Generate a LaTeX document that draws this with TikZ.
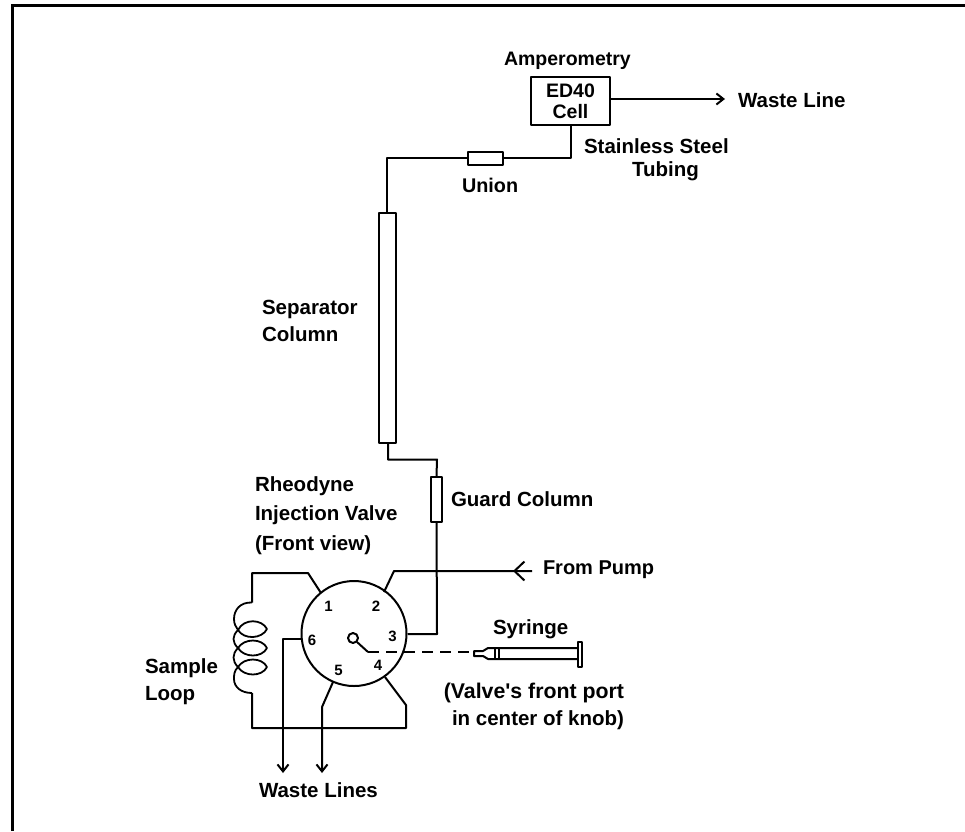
\documentclass[tikz,border=0pt]{standalone}
\usepackage{fontspec}
\setmainfont{Liberation Sans}
\usetikzlibrary{arrows.meta}
\tikzset{
  lbl/.style={inner sep=0pt, anchor=west, align=left, font=\fontsize{20.5}{27}\selectfont\bfseries},
  num/.style={inner sep=0pt, font=\fontsize{15}{15}\selectfont\bfseries},
  part/.style={draw, fill=white, inner sep=0pt}
}
\begin{document}
\begin{tikzpicture}[x=1pt, y=-1pt, >={Straight Barb[length=7pt, width=11pt]}, line width=2pt, line join=round]
\useasboundingbox (0,0) rectangle (965,831);
\draw[line width=3.2pt, line join=miter] (12.7,831) -- (12.7,5.5) -- (965,5.5);
% parts in the flow path
\node[part, minimum width=79pt, minimum height=48pt, align=center, font=\fontsize{19.5}{21}\selectfont\bfseries] (cell) at (570.5,101) {ED40\\Cell};
\node[part, minimum width=35pt, minimum height=13pt] (union) at (485.5,158) {};
\node[part, minimum width=17pt, minimum height=230pt] (sepcol) at (387,328) {};
\node[part, minimum width=11pt, minimum height=45pt] (guardcol) at (436.5,499.5) {};
\node[draw, circle, minimum size=105pt, inner sep=0pt] (valve) at (354,633.5) {};
\coordinate (wasteend) at (725,99);
\coordinate (bend) at (388,459.5);
\coordinate (bendb) at (437,459.5);
\draw (cell.south) |- (union.east);
\draw (union.west) -| (sepcol.north);
\draw (sepcol.south -| bend) -- (bend) -- (bendb) -- (guardcol.north);
\draw[->] (cell.east |- wasteend) -- (wasteend);
\draw (guardcol.south) -- (437,634) -- (valve.east |- 437,634);
% pump line, the head sits on the line
\coordinate (pumpa) at (384,592);
\coordinate (pumpb) at (394,571);
\coordinate (pumpc) at (532,571);
\coordinate (pumptip) at (513,571);
\draw (pumpa) -- (pumpb) -- (pumpc);
\draw[-{Straight Barb[length=10pt, width=19pt]}] (pumpc) -- (pumptip);
% sample loop
\coordinate (loopa) at (321,593);
\coordinate (loopb) at (308,573);
\coordinate (loopc) at (252,573);
\coordinate (loopd) at (252,602.5);
\coordinate (loope) at (252,693);
\coordinate (loopf) at (252,728);
\coordinate (loopg) at (406,728);
\coordinate (looph) at (406,705);
\coordinate (loopi) at (385,677);
\draw (loopa) -- (loopb) -- (loopc) -- (loopd);
\draw (loope) -- (loopf) -- (loopg) -- (looph) -- (loopi);
\draw[line width=1.8pt] (loopd) .. controls (240,602) and (234,610) .. (234,619)
  .. controls (234,624) and (236,627) .. (238,630)
  .. controls (244,618) and (262,619) .. (267,629)
  .. controls (262,639) and (244,640) .. (238,630)
  .. controls (232,636) and (232,642) .. (238,648)
  .. controls (244,638) and (262,638) .. (267,648)
  .. controls (262,658) and (244,658) .. (238,648)
  .. controls (232,654) and (232,661) .. (238,667)
  .. controls (244,657) and (262,657) .. (267,667)
  .. controls (262,677) and (244,677) .. (238,667)
  .. controls (234,671) and (234,675) .. (234,679)
  .. controls (234,687) and (241,693) .. (loope);
% waste lines
\coordinate (wastea) at (283,639);
\coordinate (wasteb) at (283,773);
\coordinate (wastec) at (333,682);
\coordinate (wasted) at (322,707);
\coordinate (wastee) at (322,773);
\draw[->] (valve.west |- wastea) -- (wastea) -- (wasteb);
\draw[->] (wastec) -- (wasted) -- (wastee);
% knob and syringe
\node[draw, circle, minimum size=10pt, inner sep=0pt] (knob) at (353,638) {};
\coordinate (knobb) at (368,652);
\coordinate (tip) at (474,652);
\draw (knob) ++(4,4) -- (knobb);
\draw[dashed, dash pattern=on 11pt off 7pt] (knobb) -- (tip);
\node[part, minimum width=4.5pt, minimum height=25pt] (flange) at (580,654.5) {};
\coordinate (noseb) at (488,648);
\coordinate (nosec) at (488,659);
\draw (flange.west |- noseb) -- (noseb) -- (483,651) -- (tip |- 0,651) -- (tip |- 0,656) -- (483,656) -- (nosec) -- (flange.west |- nosec);
\draw (495,648) -- (495,659);
\draw (499,648) -- (499,659);
% port numbers
\node[num] (pone) at (328.5,606.5) {1};
\node[num] (ptwo) at (376,606) {2};
\node[num] (pthree) at (392.5,636) {3};
\node[num] (pfour) at (378,665) {4};
\node[num] (pfive) at (338.5,670) {5};
\node[num] (psix) at (312,640) {6};
% labels
\node[lbl, font=\fontsize{19.5}{27}\selectfont\bfseries] (amp) at (503,60.5) {Amperometry};
\node[lbl] (wasteline) at (737,100) {Waste Line};
\node[lbl] (steel) at (583,146) {Stainless Steel};
\node[lbl] (tubing) at (631,171) {Tubing};
\node[lbl, font=\fontsize{19.8}{27}\selectfont\bfseries] (unionlbl) at (461,185) {Union};
\node[lbl] (seplbl) at (261,321) {Separator\\Column};
\node[lbl] (guardlbl) at (450,499.5) {Guard Column};
\node[lbl, font=\fontsize{20.5}{29}\selectfont\bfseries] (rheo) at (254,501) {Rheodyne\\Injection Valve};
\node[lbl] (front) at (254,545) {(Front view)};
\node[lbl, font=\fontsize{20}{27}\selectfont\bfseries] (pumplbl) at (542,570) {From Pump};
\node[lbl] (syrlbl) at (492,629.5) {Syringe};
\node[lbl, font=\fontsize{21.3}{27}\selectfont\bfseries, anchor=east] (portlbl) at (625,693) {(Valve\textquotesingle s front port};
\node[lbl, anchor=east] (knoblbl) at (625,720) {in center of knob)};
\node[lbl] (looplbl) at (144,681.5) {Sample\\Loop};
\node[lbl] (wasteslbl) at (258,790) {Waste Lines};
\end{tikzpicture}
\end{document}
